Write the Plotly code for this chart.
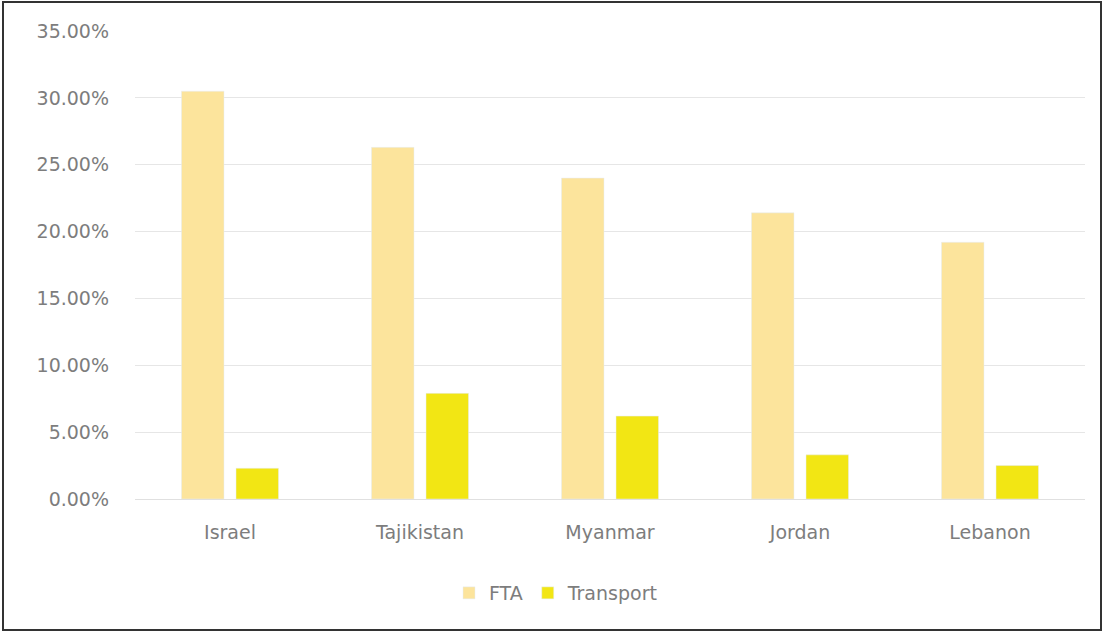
import plotly.graph_objects as go

countries = ["Israel", "Tajikistan", "Myanmar", "Jordan", "Lebanon"]
fta = [30.5, 26.3, 24.0, 21.4, 19.2]
transport = [2.3, 7.9, 6.2, 3.3, 2.5]
yticks = [0, 5, 10, 15, 20, 25, 30, 35]
yticklabels = [f"{v:.2f}%" for v in yticks]

W, H = 1104, 633
ml, mr, mt, mb = 135, 19, 31, 134
pw, ph = W - ml - mr, H - mt - mb

def px_x(p):
    return (p - ml) / pw

def px_y(p):
    return (H - mb - p) / ph

fig = go.Figure()
fig.add_trace(go.Bar(name="FTA", x=countries, y=fta, marker_color="#fce49c"))
fig.add_trace(go.Bar(name="Transport", x=countries, y=transport, marker_color="#f2e614"))

font = dict(family="DejaVu Sans", size=19, color="#7d7d7d")
fig.update_layout(
    width=W, height=H,
    margin=dict(l=ml, r=mr, t=mt, b=mb),
    paper_bgcolor="white", plot_bgcolor="white",
    barmode="group", bargap=0.426, bargroupgap=0.22,
    font=font,
    showlegend=True,
    legend=dict(orientation="h", x=px_x(556), xanchor="center", y=px_y(593), yanchor="middle",
                font=font, itemwidth=30, tracegroupgap=0),
    xaxis=dict(showgrid=False, showline=True, linecolor="#e0e0e0", ticks="", tickfont=font,
               ticklabelstandoff=16),
    yaxis=dict(range=[0, 35], tickvals=yticks, ticktext=yticklabels, showgrid=True,
               gridcolor="#e6e6e6", zeroline=False, showline=False, tickfont=font,
               ticklabelstandoff=25),
    shapes=[dict(type="rect", xref="paper", yref="paper",
                 x0=px_x(3), x1=px_x(1101), y0=px_y(630), y1=px_y(2),
                 line=dict(color="#333333", width=2), fillcolor="rgba(0,0,0,0)")],
)
fig.write_html("out.html")
